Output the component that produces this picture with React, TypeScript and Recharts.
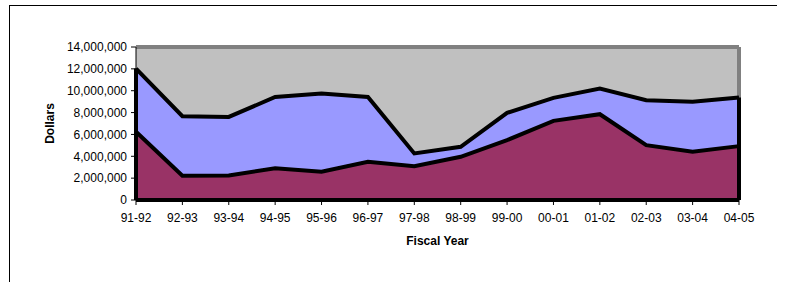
import React from "react";
import { ComposedChart, Area, Line, XAxis, YAxis, CartesianGrid, ReferenceLine } from "recharts";

const years = ["91-92", "92-93", "93-94", "94-95", "95-96", "96-97", "97-98", "98-99", "99-00", "00-01", "01-02", "02-03", "03-04", "04-05"];
const lowerSeries = [6240000, 2220000, 2250000, 2900000, 2590000, 3500000, 3100000, 3950000, 5480000, 7240000, 7850000, 5020000, 4410000, 4930000];
const totals = [12030000, 7670000, 7600000, 9430000, 9740000, 9430000, 4260000, 4870000, 7970000, 9350000, 10200000, 9130000, 8980000, 9380000];
const yTicks = [0, 2000000, 4000000, 6000000, 8000000, 10000000, 12000000, 14000000];

const data = years.map((year, i) => ({
  year,
  lower: lowerSeries[i],
  upper: totals[i] - lowerSeries[i],
  total: totals[i],
}));

const font = "'Liberation Sans', Arial, sans-serif";
const first = years[0];
const last = years[years.length - 1];

export default function App() {
  return (
    <div style={{ position: "absolute", left: 0, top: 0, width: 786, height: 282, fontFamily: font }}>
      <div
        style={{
          position: "absolute",
          left: 9,
          top: 5,
          width: 767,
          height: 290,
          borderTop: "1px solid #000",
          borderLeft: "1px solid #000",
        }}
      />
      <div style={{ position: "absolute", left: 0, top: 0 }}>
        <ComposedChart width={786} height={282} data={data} margin={{ top: 47, right: 47, bottom: 30, left: 0 }}>
          <CartesianGrid horizontal={false} vertical={false} fill="#C0C0C0" />
          <ReferenceLine y={14000000} stroke="#808080" strokeWidth={4} />
          <ReferenceLine x={last} stroke="#808080" strokeWidth={4} />
          <XAxis
            dataKey="year"
            height={52}
            tick={{ fill: "#000", fontSize: 12, fontFamily: font }}
            tickSize={5}
            tickMargin={8}
            axisLine={{ stroke: "#000" }}
            tickLine={{ stroke: "#000" }}
            interval={0}
            label={{ value: "Fiscal Year", position: "insideBottom", offset: 7, fill: "#000", fontSize: 12, fontWeight: "bold", fontFamily: font }}
          />
          <YAxis
            width={136}
            domain={[0, 14000000]}
            ticks={yTicks}
            interval={0}
            tickFormatter={(v: number) => v.toLocaleString("en-US")}
            tick={{ fill: "#000", fontSize: 12, fontFamily: font }}
            tickSize={5}
            tickMargin={4}
            axisLine={{ stroke: "#000" }}
            tickLine={{ stroke: "#000" }}
            label={{ value: "Dollars", angle: -90, position: "insideLeft", offset: 50, fill: "#000", fontSize: 12, fontWeight: "bold", fontFamily: font, style: { textAnchor: "middle" } }}
          />
          <Area dataKey="lower" stackId="a" type="linear" fill="#993366" fillOpacity={1} stroke="none" isAnimationActive={false} dot={false} activeDot={false} />
          <Area dataKey="upper" stackId="a" type="linear" fill="#9999FF" fillOpacity={1} stroke="none" isAnimationActive={false} dot={false} activeDot={false} />
          <Line dataKey="lower" type="linear" stroke="#000" strokeWidth={4} dot={false} activeDot={false} isAnimationActive={false} />
          <Line dataKey="total" type="linear" stroke="#000" strokeWidth={4} dot={false} activeDot={false} isAnimationActive={false} />
          <ReferenceLine y={0} stroke="#000" strokeWidth={4} />
          <ReferenceLine segment={[{ x: first, y: 0 }, { x: first, y: totals[0] }]} stroke="#000" strokeWidth={4} />
          <ReferenceLine segment={[{ x: last, y: 0 }, { x: last, y: totals[totals.length - 1] }]} stroke="#000" strokeWidth={4} />
        </ComposedChart>
      </div>
    </div>
  );
}
